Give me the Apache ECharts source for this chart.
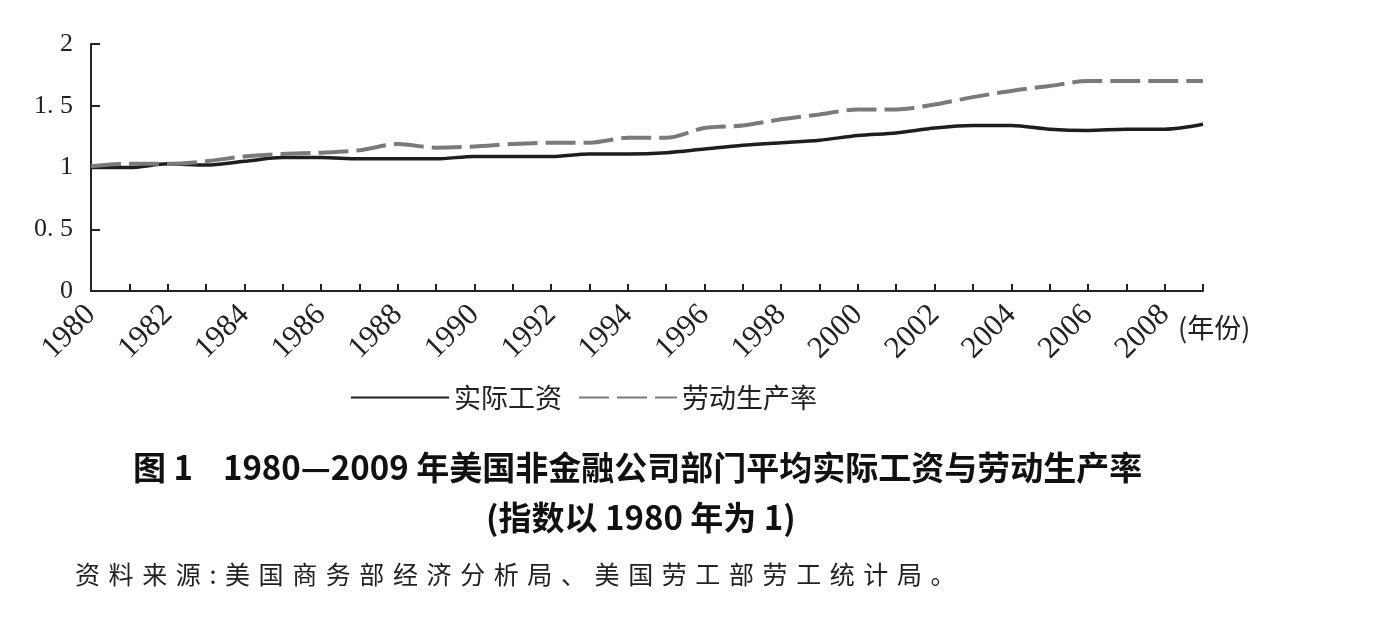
<!DOCTYPE html>
<html>
<head>
<meta charset="utf-8">
<script src="https://cdn.jsdelivr.net/npm/echarts@6/dist/echarts.min.js"></script>
<style>
  html, body { margin: 0; padding: 0; background: #fff; }
  #wrap { position: relative; width: 1373px; height: 637px; }
  #main { width: 1373px; height: 637px; }
  #source {
    position: absolute; left: 75px; top: 555px;
    font-family: "Noto Sans CJK SC", sans-serif; font-size: 25px;
    letter-spacing: 8.6px; color: #222; white-space: nowrap;
  }
</style>
</head>
<body>
<div id="wrap">
  <div id="main"></div>
  <div id="source">资料来源:美国商务部经济分析局、美国劳工部劳工统计局。</div>
</div>
<script>
// 年份 1980-2009
var years = [];
for (var y = 1980; y <= 2009; y++) { years.push(String(y)); }

// 实际工资 (1980=1)
var wageData = [1.00, 1.00, 1.03, 1.02, 1.05, 1.08, 1.08, 1.07, 1.07, 1.07,
                1.09, 1.09, 1.09, 1.11, 1.11, 1.12, 1.15, 1.18, 1.20, 1.22,
                1.26, 1.28, 1.32, 1.34, 1.34, 1.31, 1.30, 1.31, 1.31, 1.35];

// 劳动生产率 (1980=1)
var prodData = [1.01, 1.03, 1.03, 1.05, 1.09, 1.11, 1.12, 1.14, 1.19, 1.16,
                1.17, 1.19, 1.20, 1.20, 1.24, 1.24, 1.32, 1.34, 1.39, 1.43,
                1.47, 1.47, 1.51, 1.57, 1.62, 1.66, 1.70, 1.70, 1.70, 1.70];

var yTicks = ['0', '0. 5', '1', '1. 5', '2'];

var serif = '"Liberation Serif", "DejaVu Serif", "Noto Sans CJK SC", serif';
var cjk = '"Noto Sans CJK SC", "Liberation Serif", sans-serif';

var myChart = echarts.init(document.getElementById('main'));

var option = {
    backgroundColor: '#fff',
    animation: false,
    grid: {
        left: 91,
        top: 44,
        width: 1112,
        height: 247,
        containLabel: false
    },
    legend: {
        left: 345,
        top: 379,
        itemWidth: 98,
        itemHeight: 14,
        itemGap: 16,
        itemStyle: { opacity: 0 },
        textStyle: {
            fontFamily: cjk,
            fontSize: 27,
            color: '#222'
        },
        data: ['实际工资', '劳动生产率']
    },
    xAxis: {
        type: 'category',
        boundaryGap: false,
        data: years,
        axisLine: { lineStyle: { color: '#222', width: 2 } },
        axisTick: {
            inside: true,
            length: 7,
            interval: 0,
            lineStyle: { color: '#222', width: 2 }
        },
        axisLabel: {
            interval: 1,
            rotate: 45,
            margin: 19,
            fontFamily: serif,
            fontSize: 31,
            color: '#222'
        },
        splitLine: { show: false }
    },
    yAxis: {
        type: 'value',
        min: 0,
        max: 2,
        interval: 0.5,
        axisLine: { show: true, lineStyle: { color: '#222', width: 2 } },
        axisTick: {
            show: true,
            inside: true,
            length: 9,
            lineStyle: { color: '#222', width: 2 }
        },
        axisLabel: {
            margin: 18,
            fontFamily: serif,
            fontSize: 26,
            color: '#222',
            formatter: function (v) { return yTicks[Math.round(v * 2)]; }
        },
        splitLine: { show: false }
    },
    series: [
        {
            name: '实际工资',
            type: 'line',
            data: wageData,
            smooth: 0.3,
            symbol: 'none',
            lineStyle: { color: '#1e1e1e', width: 3.5 },
            itemStyle: { color: '#1e1e1e' }
        },
        {
            name: '劳动生产率',
            type: 'line',
            data: prodData,
            smooth: 0.3,
            symbol: 'none',
            lineStyle: { color: '#7a7a7a', width: 4, type: [30, 8] },
            itemStyle: { color: '#7a7a7a' }
        }
    ],
    graphic: [
        {
            type: 'text',
            left: 1178,
            top: 314,
            style: {
                text: '(年份)',
                font: '27px ' + cjk,
                fill: '#222'
            }
        },
        {
            type: 'text',
            left: 133,
            top: 451,
            style: {
                text: '图 1    1980—2009 年美国非金融公司部门平均实际工资与劳动生产率',
                font: 'bold 33px ' + cjk,
                fill: '#111'
            }
        },
        {
            type: 'text',
            left: 486,
            top: 501,
            style: {
                text: '(指数以 1980 年为 1)',
                font: 'bold 33px ' + cjk,
                fill: '#111'
            }
        }
    ]
};

myChart.setOption(option);
</script>
</body>
</html>
